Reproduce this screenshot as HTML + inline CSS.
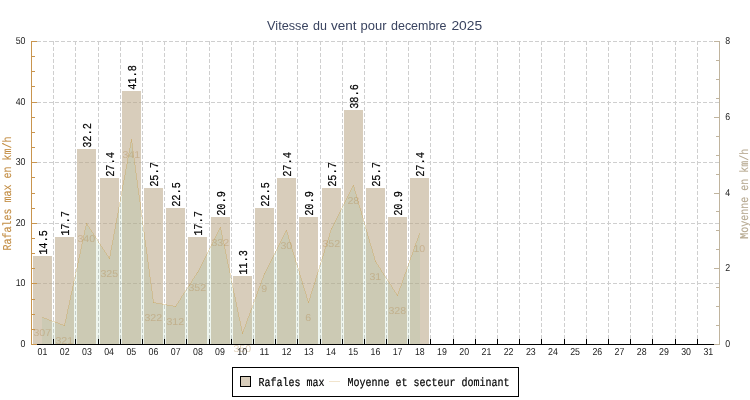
<!DOCTYPE html>
<html>
<head>
<meta charset="utf-8">
<title>Vitesse du vent pour decembre 2025</title>
<style>
html,body{margin:0;padding:0;background:#fff;}
body{width:750px;height:400px;position:relative;overflow:hidden;font-family:"Liberation Sans",sans-serif;}
</style>
</head>
<body>
<svg width="750" height="400" viewBox="0 0 750 400" style="position:absolute;left:0;top:0;will-change:transform">
<rect x="0" y="0" width="750" height="400" fill="#ffffff"/>
<g shape-rendering="crispEdges" stroke="#cfcfcf" stroke-width="1" stroke-dasharray="4 2" fill="none">
<line x1="53.5" y1="41" x2="53.5" y2="344"/>
<line x1="75.5" y1="41" x2="75.5" y2="344"/>
<line x1="98.5" y1="41" x2="98.5" y2="344"/>
<line x1="120.5" y1="41" x2="120.5" y2="344"/>
<line x1="142.5" y1="41" x2="142.5" y2="344"/>
<line x1="164.5" y1="41" x2="164.5" y2="344"/>
<line x1="186.5" y1="41" x2="186.5" y2="344"/>
<line x1="209.5" y1="41" x2="209.5" y2="344"/>
<line x1="231.5" y1="41" x2="231.5" y2="344"/>
<line x1="253.5" y1="41" x2="253.5" y2="344"/>
<line x1="275.5" y1="41" x2="275.5" y2="344"/>
<line x1="297.5" y1="41" x2="297.5" y2="344"/>
<line x1="320.5" y1="41" x2="320.5" y2="344"/>
<line x1="342.5" y1="41" x2="342.5" y2="344"/>
<line x1="364.5" y1="41" x2="364.5" y2="344"/>
<line x1="386.5" y1="41" x2="386.5" y2="344"/>
<line x1="408.5" y1="41" x2="408.5" y2="344"/>
<line x1="430.5" y1="41" x2="430.5" y2="344"/>
<line x1="453.5" y1="41" x2="453.5" y2="344"/>
<line x1="475.5" y1="41" x2="475.5" y2="344"/>
<line x1="497.5" y1="41" x2="497.5" y2="344"/>
<line x1="519.5" y1="41" x2="519.5" y2="344"/>
<line x1="541.5" y1="41" x2="541.5" y2="344"/>
<line x1="564.5" y1="41" x2="564.5" y2="344"/>
<line x1="586.5" y1="41" x2="586.5" y2="344"/>
<line x1="608.5" y1="41" x2="608.5" y2="344"/>
<line x1="630.5" y1="41" x2="630.5" y2="344"/>
<line x1="652.5" y1="41" x2="652.5" y2="344"/>
<line x1="675.5" y1="41" x2="675.5" y2="344"/>
<line x1="697.5" y1="41" x2="697.5" y2="344"/>
<line x1="31" y1="283.5" x2="719" y2="283.5"/>
<line x1="31" y1="223.5" x2="719" y2="223.5"/>
<line x1="31" y1="162.5" x2="719" y2="162.5"/>
<line x1="31" y1="102.5" x2="719" y2="102.5"/>
<line x1="31" y1="41.5" x2="719" y2="41.5"/>
</g>
<g shape-rendering="crispEdges" fill="rgba(185,166,134,0.56)">
<rect x="33" y="256" width="19" height="88"/>
<rect x="55" y="237" width="19" height="107"/>
<rect x="77" y="149" width="19" height="195"/>
<rect x="100" y="178" width="19" height="166"/>
<rect x="122" y="91" width="19" height="253"/>
<rect x="144" y="188" width="19" height="156"/>
<rect x="166" y="208" width="19" height="136"/>
<rect x="188" y="237" width="19" height="107"/>
<rect x="211" y="217" width="19" height="127"/>
<rect x="233" y="276" width="19" height="68"/>
<rect x="255" y="208" width="19" height="136"/>
<rect x="277" y="178" width="19" height="166"/>
<rect x="299" y="217" width="19" height="127"/>
<rect x="322" y="188" width="19" height="156"/>
<rect x="344" y="110" width="19" height="234"/>
<rect x="366" y="188" width="19" height="156"/>
<rect x="388" y="217" width="19" height="127"/>
<rect x="410" y="178" width="19" height="166"/>
</g>
<path d="M42,344 L42,317.5 L42.5,317.5 L64.5,325.5 L86.5,223.5 L109.5,258.5 L131.5,139.5 L153.5,302.5 L175.5,306.5 L197.5,272.5 L220.5,227.5 L242.5,333.5 L264.5,273.5 L286.5,230.5 L308.5,302.5 L331.5,228.5 L353.5,185.5 L375.5,261.5 L397.5,295.5 L419.5,233.5 L420,233.5 L420,344 Z" fill="rgba(143,188,143,0.15)" stroke="none"/>
<g shape-rendering="crispEdges" fill="rgba(200,150,60,0.29)">
<rect x="42" y="317" width="2" height="1"/>
<rect x="44" y="318" width="3" height="1"/>
<rect x="47" y="319" width="2" height="1"/>
<rect x="49" y="320" width="3" height="1"/>
<rect x="52" y="321" width="3" height="1"/>
<rect x="55" y="322" width="3" height="1"/>
<rect x="58" y="323" width="2" height="1"/>
<rect x="60" y="324" width="3" height="1"/>
<rect x="63" y="325" width="2" height="1"/>
<rect x="64" y="323" width="1" height="3"/>
<rect x="65" y="319" width="1" height="4"/>
<rect x="66" y="314" width="1" height="5"/>
<rect x="67" y="309" width="1" height="5"/>
<rect x="68" y="305" width="1" height="4"/>
<rect x="69" y="300" width="1" height="5"/>
<rect x="70" y="295" width="1" height="5"/>
<rect x="71" y="291" width="1" height="4"/>
<rect x="72" y="286" width="1" height="5"/>
<rect x="73" y="281" width="1" height="5"/>
<rect x="74" y="277" width="1" height="4"/>
<rect x="75" y="272" width="1" height="5"/>
<rect x="76" y="268" width="1" height="4"/>
<rect x="77" y="263" width="1" height="5"/>
<rect x="78" y="258" width="1" height="5"/>
<rect x="79" y="254" width="1" height="4"/>
<rect x="80" y="249" width="1" height="5"/>
<rect x="81" y="244" width="1" height="5"/>
<rect x="82" y="240" width="1" height="4"/>
<rect x="83" y="235" width="1" height="5"/>
<rect x="84" y="230" width="1" height="5"/>
<rect x="85" y="226" width="1" height="4"/>
<rect x="86" y="223" width="1" height="3"/>
<rect x="86" y="223" width="1" height="1"/>
<rect x="87" y="224" width="1" height="2"/>
<rect x="88" y="226" width="1" height="1"/>
<rect x="89" y="227" width="1" height="2"/>
<rect x="90" y="229" width="1" height="1"/>
<rect x="91" y="230" width="1" height="2"/>
<rect x="92" y="232" width="1" height="1"/>
<rect x="93" y="233" width="1" height="2"/>
<rect x="94" y="235" width="1" height="1"/>
<rect x="95" y="236" width="1" height="2"/>
<rect x="96" y="238" width="1" height="1"/>
<rect x="97" y="239" width="1" height="2"/>
<rect x="98" y="241" width="1" height="2"/>
<rect x="99" y="243" width="1" height="1"/>
<rect x="100" y="244" width="1" height="2"/>
<rect x="101" y="246" width="1" height="1"/>
<rect x="102" y="247" width="1" height="2"/>
<rect x="103" y="249" width="1" height="1"/>
<rect x="104" y="250" width="1" height="2"/>
<rect x="105" y="252" width="1" height="1"/>
<rect x="106" y="253" width="1" height="2"/>
<rect x="107" y="255" width="1" height="1"/>
<rect x="108" y="256" width="1" height="2"/>
<rect x="109" y="258" width="1" height="1"/>
<rect x="109" y="256" width="1" height="3"/>
<rect x="110" y="250" width="1" height="6"/>
<rect x="111" y="245" width="1" height="5"/>
<rect x="112" y="240" width="1" height="5"/>
<rect x="113" y="234" width="1" height="6"/>
<rect x="114" y="229" width="1" height="5"/>
<rect x="115" y="223" width="1" height="6"/>
<rect x="116" y="218" width="1" height="5"/>
<rect x="117" y="213" width="1" height="5"/>
<rect x="118" y="207" width="1" height="6"/>
<rect x="119" y="202" width="1" height="5"/>
<rect x="120" y="196" width="1" height="6"/>
<rect x="121" y="191" width="1" height="5"/>
<rect x="122" y="185" width="1" height="6"/>
<rect x="123" y="180" width="1" height="5"/>
<rect x="124" y="175" width="1" height="5"/>
<rect x="125" y="169" width="1" height="6"/>
<rect x="126" y="164" width="1" height="5"/>
<rect x="127" y="158" width="1" height="6"/>
<rect x="128" y="153" width="1" height="5"/>
<rect x="129" y="148" width="1" height="5"/>
<rect x="130" y="142" width="1" height="6"/>
<rect x="131" y="139" width="1" height="3"/>
<rect x="131" y="139" width="1" height="4"/>
<rect x="132" y="143" width="1" height="8"/>
<rect x="133" y="151" width="1" height="7"/>
<rect x="134" y="158" width="1" height="7"/>
<rect x="135" y="165" width="1" height="8"/>
<rect x="136" y="173" width="1" height="7"/>
<rect x="137" y="180" width="1" height="8"/>
<rect x="138" y="188" width="1" height="7"/>
<rect x="139" y="195" width="1" height="7"/>
<rect x="140" y="202" width="1" height="8"/>
<rect x="141" y="210" width="1" height="7"/>
<rect x="142" y="217" width="1" height="8"/>
<rect x="143" y="225" width="1" height="7"/>
<rect x="144" y="232" width="1" height="8"/>
<rect x="145" y="240" width="1" height="7"/>
<rect x="146" y="247" width="1" height="7"/>
<rect x="147" y="254" width="1" height="8"/>
<rect x="148" y="262" width="1" height="7"/>
<rect x="149" y="269" width="1" height="8"/>
<rect x="150" y="277" width="1" height="7"/>
<rect x="151" y="284" width="1" height="7"/>
<rect x="152" y="291" width="1" height="8"/>
<rect x="153" y="299" width="1" height="4"/>
<rect x="153" y="302" width="3" height="1"/>
<rect x="156" y="303" width="6" height="1"/>
<rect x="162" y="304" width="5" height="1"/>
<rect x="167" y="305" width="6" height="1"/>
<rect x="173" y="306" width="3" height="1"/>
<rect x="175" y="306" width="1" height="1"/>
<rect x="176" y="304" width="1" height="2"/>
<rect x="177" y="303" width="1" height="1"/>
<rect x="178" y="301" width="1" height="2"/>
<rect x="179" y="300" width="1" height="1"/>
<rect x="180" y="298" width="1" height="2"/>
<rect x="181" y="296" width="1" height="2"/>
<rect x="182" y="295" width="1" height="1"/>
<rect x="183" y="293" width="1" height="2"/>
<rect x="184" y="292" width="1" height="1"/>
<rect x="185" y="290" width="1" height="2"/>
<rect x="186" y="289" width="1" height="1"/>
<rect x="187" y="287" width="1" height="2"/>
<rect x="188" y="286" width="1" height="1"/>
<rect x="189" y="284" width="1" height="2"/>
<rect x="190" y="283" width="1" height="1"/>
<rect x="191" y="281" width="1" height="2"/>
<rect x="192" y="279" width="1" height="2"/>
<rect x="193" y="278" width="1" height="1"/>
<rect x="194" y="276" width="1" height="2"/>
<rect x="195" y="275" width="1" height="1"/>
<rect x="196" y="273" width="1" height="2"/>
<rect x="197" y="272" width="1" height="1"/>
<rect x="197" y="272" width="1" height="1"/>
<rect x="198" y="270" width="1" height="2"/>
<rect x="199" y="268" width="1" height="2"/>
<rect x="200" y="266" width="1" height="2"/>
<rect x="201" y="264" width="1" height="2"/>
<rect x="202" y="262" width="1" height="2"/>
<rect x="203" y="260" width="1" height="2"/>
<rect x="204" y="258" width="1" height="2"/>
<rect x="205" y="256" width="1" height="2"/>
<rect x="206" y="254" width="1" height="2"/>
<rect x="207" y="252" width="1" height="2"/>
<rect x="208" y="250" width="1" height="2"/>
<rect x="209" y="248" width="1" height="2"/>
<rect x="210" y="246" width="1" height="2"/>
<rect x="211" y="244" width="1" height="2"/>
<rect x="212" y="242" width="1" height="2"/>
<rect x="213" y="240" width="1" height="2"/>
<rect x="214" y="238" width="1" height="2"/>
<rect x="215" y="236" width="1" height="2"/>
<rect x="216" y="234" width="1" height="2"/>
<rect x="217" y="232" width="1" height="2"/>
<rect x="218" y="230" width="1" height="2"/>
<rect x="219" y="228" width="1" height="2"/>
<rect x="220" y="227" width="1" height="1"/>
<rect x="220" y="227" width="1" height="3"/>
<rect x="221" y="230" width="1" height="5"/>
<rect x="222" y="235" width="1" height="5"/>
<rect x="223" y="240" width="1" height="4"/>
<rect x="224" y="244" width="1" height="5"/>
<rect x="225" y="249" width="1" height="5"/>
<rect x="226" y="254" width="1" height="5"/>
<rect x="227" y="259" width="1" height="5"/>
<rect x="228" y="264" width="1" height="4"/>
<rect x="229" y="268" width="1" height="5"/>
<rect x="230" y="273" width="1" height="5"/>
<rect x="231" y="278" width="1" height="5"/>
<rect x="232" y="283" width="1" height="5"/>
<rect x="233" y="288" width="1" height="5"/>
<rect x="234" y="293" width="1" height="4"/>
<rect x="235" y="297" width="1" height="5"/>
<rect x="236" y="302" width="1" height="5"/>
<rect x="237" y="307" width="1" height="5"/>
<rect x="238" y="312" width="1" height="5"/>
<rect x="239" y="317" width="1" height="4"/>
<rect x="240" y="321" width="1" height="5"/>
<rect x="241" y="326" width="1" height="5"/>
<rect x="242" y="331" width="1" height="3"/>
<rect x="242" y="332" width="1" height="2"/>
<rect x="243" y="329" width="1" height="3"/>
<rect x="244" y="327" width="1" height="2"/>
<rect x="245" y="324" width="1" height="3"/>
<rect x="246" y="321" width="1" height="3"/>
<rect x="247" y="318" width="1" height="3"/>
<rect x="248" y="316" width="1" height="2"/>
<rect x="249" y="313" width="1" height="3"/>
<rect x="250" y="310" width="1" height="3"/>
<rect x="251" y="308" width="1" height="2"/>
<rect x="252" y="305" width="1" height="3"/>
<rect x="253" y="302" width="1" height="3"/>
<rect x="254" y="299" width="1" height="3"/>
<rect x="255" y="297" width="1" height="2"/>
<rect x="256" y="294" width="1" height="3"/>
<rect x="257" y="291" width="1" height="3"/>
<rect x="258" y="288" width="1" height="3"/>
<rect x="259" y="286" width="1" height="2"/>
<rect x="260" y="283" width="1" height="3"/>
<rect x="261" y="280" width="1" height="3"/>
<rect x="262" y="278" width="1" height="2"/>
<rect x="263" y="275" width="1" height="3"/>
<rect x="264" y="273" width="1" height="2"/>
<rect x="264" y="273" width="1" height="1"/>
<rect x="265" y="271" width="1" height="2"/>
<rect x="266" y="269" width="1" height="2"/>
<rect x="267" y="267" width="1" height="2"/>
<rect x="268" y="265" width="1" height="2"/>
<rect x="269" y="263" width="1" height="2"/>
<rect x="270" y="261" width="1" height="2"/>
<rect x="271" y="259" width="1" height="2"/>
<rect x="272" y="257" width="1" height="2"/>
<rect x="273" y="255" width="1" height="2"/>
<rect x="274" y="253" width="1" height="2"/>
<rect x="275" y="251" width="1" height="2"/>
<rect x="276" y="249" width="1" height="2"/>
<rect x="277" y="247" width="1" height="2"/>
<rect x="278" y="245" width="1" height="2"/>
<rect x="279" y="243" width="1" height="2"/>
<rect x="280" y="241" width="1" height="2"/>
<rect x="281" y="239" width="1" height="2"/>
<rect x="282" y="237" width="1" height="2"/>
<rect x="283" y="235" width="1" height="2"/>
<rect x="284" y="233" width="1" height="2"/>
<rect x="285" y="231" width="1" height="2"/>
<rect x="286" y="230" width="1" height="1"/>
<rect x="286" y="230" width="1" height="2"/>
<rect x="287" y="232" width="1" height="3"/>
<rect x="288" y="235" width="1" height="4"/>
<rect x="289" y="239" width="1" height="3"/>
<rect x="290" y="242" width="1" height="3"/>
<rect x="291" y="245" width="1" height="4"/>
<rect x="292" y="249" width="1" height="3"/>
<rect x="293" y="252" width="1" height="3"/>
<rect x="294" y="255" width="1" height="3"/>
<rect x="295" y="258" width="1" height="4"/>
<rect x="296" y="262" width="1" height="3"/>
<rect x="297" y="265" width="1" height="3"/>
<rect x="298" y="268" width="1" height="3"/>
<rect x="299" y="271" width="1" height="4"/>
<rect x="300" y="275" width="1" height="3"/>
<rect x="301" y="278" width="1" height="3"/>
<rect x="302" y="281" width="1" height="4"/>
<rect x="303" y="285" width="1" height="3"/>
<rect x="304" y="288" width="1" height="3"/>
<rect x="305" y="291" width="1" height="3"/>
<rect x="306" y="294" width="1" height="4"/>
<rect x="307" y="298" width="1" height="3"/>
<rect x="308" y="301" width="1" height="2"/>
<rect x="308" y="301" width="1" height="2"/>
<rect x="309" y="298" width="1" height="3"/>
<rect x="310" y="294" width="1" height="4"/>
<rect x="311" y="291" width="1" height="3"/>
<rect x="312" y="288" width="1" height="3"/>
<rect x="313" y="285" width="1" height="3"/>
<rect x="314" y="282" width="1" height="3"/>
<rect x="315" y="278" width="1" height="4"/>
<rect x="316" y="275" width="1" height="3"/>
<rect x="317" y="272" width="1" height="3"/>
<rect x="318" y="269" width="1" height="3"/>
<rect x="319" y="265" width="1" height="4"/>
<rect x="320" y="262" width="1" height="3"/>
<rect x="321" y="259" width="1" height="3"/>
<rect x="322" y="256" width="1" height="3"/>
<rect x="323" y="253" width="1" height="3"/>
<rect x="324" y="249" width="1" height="4"/>
<rect x="325" y="246" width="1" height="3"/>
<rect x="326" y="243" width="1" height="3"/>
<rect x="327" y="240" width="1" height="3"/>
<rect x="328" y="237" width="1" height="3"/>
<rect x="329" y="233" width="1" height="4"/>
<rect x="330" y="230" width="1" height="3"/>
<rect x="331" y="228" width="1" height="2"/>
<rect x="331" y="228" width="1" height="1"/>
<rect x="332" y="226" width="1" height="2"/>
<rect x="333" y="224" width="1" height="2"/>
<rect x="334" y="222" width="1" height="2"/>
<rect x="335" y="220" width="1" height="2"/>
<rect x="336" y="218" width="1" height="2"/>
<rect x="337" y="216" width="1" height="2"/>
<rect x="338" y="214" width="1" height="2"/>
<rect x="339" y="212" width="1" height="2"/>
<rect x="340" y="210" width="1" height="2"/>
<rect x="341" y="208" width="1" height="2"/>
<rect x="342" y="206" width="1" height="2"/>
<rect x="343" y="204" width="1" height="2"/>
<rect x="344" y="202" width="1" height="2"/>
<rect x="345" y="200" width="1" height="2"/>
<rect x="346" y="198" width="1" height="2"/>
<rect x="347" y="196" width="1" height="2"/>
<rect x="348" y="194" width="1" height="2"/>
<rect x="349" y="192" width="1" height="2"/>
<rect x="350" y="190" width="1" height="2"/>
<rect x="351" y="188" width="1" height="2"/>
<rect x="352" y="186" width="1" height="2"/>
<rect x="353" y="185" width="1" height="1"/>
<rect x="353" y="185" width="1" height="2"/>
<rect x="354" y="187" width="1" height="4"/>
<rect x="355" y="191" width="1" height="3"/>
<rect x="356" y="194" width="1" height="4"/>
<rect x="357" y="198" width="1" height="3"/>
<rect x="358" y="201" width="1" height="4"/>
<rect x="359" y="205" width="1" height="3"/>
<rect x="360" y="208" width="1" height="3"/>
<rect x="361" y="211" width="1" height="4"/>
<rect x="362" y="215" width="1" height="3"/>
<rect x="363" y="218" width="1" height="4"/>
<rect x="364" y="222" width="1" height="3"/>
<rect x="365" y="225" width="1" height="4"/>
<rect x="366" y="229" width="1" height="3"/>
<rect x="367" y="232" width="1" height="4"/>
<rect x="368" y="236" width="1" height="3"/>
<rect x="369" y="239" width="1" height="4"/>
<rect x="370" y="243" width="1" height="3"/>
<rect x="371" y="246" width="1" height="3"/>
<rect x="372" y="249" width="1" height="4"/>
<rect x="373" y="253" width="1" height="3"/>
<rect x="374" y="256" width="1" height="4"/>
<rect x="375" y="260" width="1" height="2"/>
<rect x="375" y="261" width="1" height="1"/>
<rect x="376" y="262" width="1" height="2"/>
<rect x="377" y="264" width="1" height="1"/>
<rect x="378" y="265" width="1" height="2"/>
<rect x="379" y="267" width="1" height="1"/>
<rect x="380" y="268" width="1" height="2"/>
<rect x="381" y="270" width="1" height="2"/>
<rect x="382" y="272" width="1" height="1"/>
<rect x="383" y="273" width="1" height="2"/>
<rect x="384" y="275" width="1" height="1"/>
<rect x="385" y="276" width="1" height="2"/>
<rect x="386" y="278" width="1" height="1"/>
<rect x="387" y="279" width="1" height="2"/>
<rect x="388" y="281" width="1" height="1"/>
<rect x="389" y="282" width="1" height="2"/>
<rect x="390" y="284" width="1" height="1"/>
<rect x="391" y="285" width="1" height="2"/>
<rect x="392" y="287" width="1" height="2"/>
<rect x="393" y="289" width="1" height="1"/>
<rect x="394" y="290" width="1" height="2"/>
<rect x="395" y="292" width="1" height="1"/>
<rect x="396" y="293" width="1" height="2"/>
<rect x="397" y="295" width="1" height="1"/>
<rect x="397" y="294" width="1" height="2"/>
<rect x="398" y="291" width="1" height="3"/>
<rect x="399" y="288" width="1" height="3"/>
<rect x="400" y="286" width="1" height="2"/>
<rect x="401" y="283" width="1" height="3"/>
<rect x="402" y="280" width="1" height="3"/>
<rect x="403" y="277" width="1" height="3"/>
<rect x="404" y="274" width="1" height="3"/>
<rect x="405" y="272" width="1" height="2"/>
<rect x="406" y="269" width="1" height="3"/>
<rect x="407" y="266" width="1" height="3"/>
<rect x="408" y="263" width="1" height="3"/>
<rect x="409" y="260" width="1" height="3"/>
<rect x="410" y="257" width="1" height="3"/>
<rect x="411" y="255" width="1" height="2"/>
<rect x="412" y="252" width="1" height="3"/>
<rect x="413" y="249" width="1" height="3"/>
<rect x="414" y="246" width="1" height="3"/>
<rect x="415" y="243" width="1" height="3"/>
<rect x="416" y="241" width="1" height="2"/>
<rect x="417" y="238" width="1" height="3"/>
<rect x="418" y="235" width="1" height="3"/>
<rect x="419" y="233" width="1" height="2"/>
</g>
<g font-family="Liberation Sans, sans-serif" font-size="10" text-rendering="geometricPrecision" fill="rgb(178,140,85)" fill-opacity="0.42" text-anchor="middle">
<text x="42.3" y="335.5" textLength="17.7" lengthAdjust="spacingAndGlyphs">307</text>
<text x="64.3" y="343.5" textLength="17.7" lengthAdjust="spacingAndGlyphs">321</text>
<text x="86.3" y="241.5" textLength="17.7" lengthAdjust="spacingAndGlyphs">340</text>
<text x="109.3" y="276.5" textLength="17.7" lengthAdjust="spacingAndGlyphs">325</text>
<text x="131.3" y="157.5" textLength="17.7" lengthAdjust="spacingAndGlyphs">341</text>
<text x="153.3" y="320.5" textLength="17.7" lengthAdjust="spacingAndGlyphs">322</text>
<text x="175.3" y="324.5" textLength="17.7" lengthAdjust="spacingAndGlyphs">312</text>
<text x="197.3" y="290.5" textLength="17.7" lengthAdjust="spacingAndGlyphs">352</text>
<text x="220.3" y="245.5" textLength="17.7" lengthAdjust="spacingAndGlyphs">332</text>
<text x="242.3" y="351.5" textLength="17.7" lengthAdjust="spacingAndGlyphs">350</text>
<text x="264.3" y="291.5" textLength="5.9" lengthAdjust="spacingAndGlyphs">9</text>
<text x="286.3" y="248.5" textLength="11.8" lengthAdjust="spacingAndGlyphs">30</text>
<text x="308.3" y="320.5" textLength="5.9" lengthAdjust="spacingAndGlyphs">6</text>
<text x="331.3" y="246.5" textLength="17.7" lengthAdjust="spacingAndGlyphs">352</text>
<text x="353.3" y="203.5" textLength="11.8" lengthAdjust="spacingAndGlyphs">28</text>
<text x="375.3" y="279.5" textLength="11.8" lengthAdjust="spacingAndGlyphs">31</text>
<text x="397.3" y="313.5" textLength="17.7" lengthAdjust="spacingAndGlyphs">328</text>
<text x="419.3" y="251.5" textLength="11.8" lengthAdjust="spacingAndGlyphs">10</text>
</g>
<g shape-rendering="crispEdges">
<rect x="31" y="344" width="689" height="1" fill="#000"/>
<rect x="53" y="339" width="1" height="5" fill="#000"/>
<rect x="75" y="339" width="1" height="5" fill="#000"/>
<rect x="98" y="339" width="1" height="5" fill="#000"/>
<rect x="120" y="339" width="1" height="5" fill="#000"/>
<rect x="142" y="339" width="1" height="5" fill="#000"/>
<rect x="164" y="339" width="1" height="5" fill="#000"/>
<rect x="186" y="339" width="1" height="5" fill="#000"/>
<rect x="209" y="339" width="1" height="5" fill="#000"/>
<rect x="231" y="339" width="1" height="5" fill="#000"/>
<rect x="253" y="339" width="1" height="5" fill="#000"/>
<rect x="275" y="339" width="1" height="5" fill="#000"/>
<rect x="297" y="339" width="1" height="5" fill="#000"/>
<rect x="320" y="339" width="1" height="5" fill="#000"/>
<rect x="342" y="339" width="1" height="5" fill="#000"/>
<rect x="364" y="339" width="1" height="5" fill="#000"/>
<rect x="386" y="339" width="1" height="5" fill="#000"/>
<rect x="408" y="339" width="1" height="5" fill="#000"/>
<rect x="430" y="339" width="1" height="5" fill="#000"/>
<rect x="453" y="339" width="1" height="5" fill="#000"/>
<rect x="475" y="339" width="1" height="5" fill="#000"/>
<rect x="497" y="339" width="1" height="5" fill="#000"/>
<rect x="519" y="339" width="1" height="5" fill="#000"/>
<rect x="541" y="339" width="1" height="5" fill="#000"/>
<rect x="564" y="339" width="1" height="5" fill="#000"/>
<rect x="586" y="339" width="1" height="5" fill="#000"/>
<rect x="608" y="339" width="1" height="5" fill="#000"/>
<rect x="630" y="339" width="1" height="5" fill="#000"/>
<rect x="652" y="339" width="1" height="5" fill="#000"/>
<rect x="675" y="339" width="1" height="5" fill="#000"/>
<rect x="697" y="339" width="1" height="5" fill="#000"/>
<rect x="31" y="41" width="1" height="304" fill="#c9954e"/>
<rect x="32" y="344" width="5" height="1" fill="#c9954e"/>
<rect x="32" y="329" width="3" height="1" fill="#c9954e"/>
<rect x="32" y="314" width="3" height="1" fill="#c9954e"/>
<rect x="32" y="299" width="3" height="1" fill="#c9954e"/>
<rect x="32" y="283" width="5" height="1" fill="#c9954e"/>
<rect x="32" y="268" width="3" height="1" fill="#c9954e"/>
<rect x="32" y="253" width="3" height="1" fill="#c9954e"/>
<rect x="32" y="238" width="3" height="1" fill="#c9954e"/>
<rect x="32" y="223" width="5" height="1" fill="#c9954e"/>
<rect x="32" y="208" width="3" height="1" fill="#c9954e"/>
<rect x="32" y="193" width="3" height="1" fill="#c9954e"/>
<rect x="32" y="177" width="3" height="1" fill="#c9954e"/>
<rect x="32" y="162" width="5" height="1" fill="#c9954e"/>
<rect x="32" y="147" width="3" height="1" fill="#c9954e"/>
<rect x="32" y="132" width="3" height="1" fill="#c9954e"/>
<rect x="32" y="117" width="3" height="1" fill="#c9954e"/>
<rect x="32" y="102" width="5" height="1" fill="#c9954e"/>
<rect x="32" y="86" width="3" height="1" fill="#c9954e"/>
<rect x="32" y="71" width="3" height="1" fill="#c9954e"/>
<rect x="32" y="56" width="3" height="1" fill="#c9954e"/>
<rect x="32" y="41" width="5" height="1" fill="#c9954e"/>
<rect x="719" y="41" width="1" height="304" fill="#c0b49e"/>
<rect x="714" y="344" width="5" height="1" fill="#c0b49e"/>
<rect x="716" y="325" width="3" height="1" fill="#c0b49e"/>
<rect x="716" y="306" width="3" height="1" fill="#c0b49e"/>
<rect x="716" y="287" width="3" height="1" fill="#c0b49e"/>
<rect x="714" y="268" width="5" height="1" fill="#c0b49e"/>
<rect x="716" y="249" width="3" height="1" fill="#c0b49e"/>
<rect x="716" y="230" width="3" height="1" fill="#c0b49e"/>
<rect x="716" y="211" width="3" height="1" fill="#c0b49e"/>
<rect x="714" y="193" width="5" height="1" fill="#c0b49e"/>
<rect x="716" y="174" width="3" height="1" fill="#c0b49e"/>
<rect x="716" y="155" width="3" height="1" fill="#c0b49e"/>
<rect x="716" y="136" width="3" height="1" fill="#c0b49e"/>
<rect x="714" y="117" width="5" height="1" fill="#c0b49e"/>
<rect x="716" y="98" width="3" height="1" fill="#c0b49e"/>
<rect x="716" y="79" width="3" height="1" fill="#c0b49e"/>
<rect x="716" y="60" width="3" height="1" fill="#c0b49e"/>
<rect x="714" y="41" width="5" height="1" fill="#c0b49e"/>
</g>
<g font-family="Liberation Sans, sans-serif" font-size="10" text-rendering="geometricPrecision" fill="#222222">
<text x="25.5" y="347.0" text-anchor="end" textLength="4.9" lengthAdjust="spacingAndGlyphs">0</text>
<text x="25.5" y="286.0" text-anchor="end" textLength="9.8" lengthAdjust="spacingAndGlyphs">10</text>
<text x="25.5" y="226.0" text-anchor="end" textLength="9.8" lengthAdjust="spacingAndGlyphs">20</text>
<text x="25.5" y="165.0" text-anchor="end" textLength="9.8" lengthAdjust="spacingAndGlyphs">30</text>
<text x="25.5" y="105.0" text-anchor="end" textLength="9.8" lengthAdjust="spacingAndGlyphs">40</text>
<text x="25.5" y="44.0" text-anchor="end" textLength="9.8" lengthAdjust="spacingAndGlyphs">50</text>
<text x="725.2" y="347.0" textLength="4.9" lengthAdjust="spacingAndGlyphs">0</text>
<text x="725.2" y="271.0" textLength="4.9" lengthAdjust="spacingAndGlyphs">2</text>
<text x="725.2" y="196.0" textLength="4.9" lengthAdjust="spacingAndGlyphs">4</text>
<text x="725.2" y="120.0" textLength="4.9" lengthAdjust="spacingAndGlyphs">6</text>
<text x="725.2" y="44.0" textLength="4.9" lengthAdjust="spacingAndGlyphs">8</text>
<text x="42.5" y="355" text-anchor="middle" textLength="9.8" lengthAdjust="spacingAndGlyphs">01</text>
<text x="64.7" y="355" text-anchor="middle" textLength="9.8" lengthAdjust="spacingAndGlyphs">02</text>
<text x="86.9" y="355" text-anchor="middle" textLength="9.8" lengthAdjust="spacingAndGlyphs">03</text>
<text x="109.1" y="355" text-anchor="middle" textLength="9.8" lengthAdjust="spacingAndGlyphs">04</text>
<text x="131.3" y="355" text-anchor="middle" textLength="9.8" lengthAdjust="spacingAndGlyphs">05</text>
<text x="153.5" y="355" text-anchor="middle" textLength="9.8" lengthAdjust="spacingAndGlyphs">06</text>
<text x="175.7" y="355" text-anchor="middle" textLength="9.8" lengthAdjust="spacingAndGlyphs">07</text>
<text x="197.9" y="355" text-anchor="middle" textLength="9.8" lengthAdjust="spacingAndGlyphs">08</text>
<text x="220.0" y="355" text-anchor="middle" textLength="9.8" lengthAdjust="spacingAndGlyphs">09</text>
<text x="242.2" y="355" text-anchor="middle" textLength="9.8" lengthAdjust="spacingAndGlyphs">10</text>
<text x="264.4" y="355" text-anchor="middle" textLength="9.8" lengthAdjust="spacingAndGlyphs">11</text>
<text x="286.6" y="355" text-anchor="middle" textLength="9.8" lengthAdjust="spacingAndGlyphs">12</text>
<text x="308.8" y="355" text-anchor="middle" textLength="9.8" lengthAdjust="spacingAndGlyphs">13</text>
<text x="331.0" y="355" text-anchor="middle" textLength="9.8" lengthAdjust="spacingAndGlyphs">14</text>
<text x="353.2" y="355" text-anchor="middle" textLength="9.8" lengthAdjust="spacingAndGlyphs">15</text>
<text x="375.4" y="355" text-anchor="middle" textLength="9.8" lengthAdjust="spacingAndGlyphs">16</text>
<text x="397.6" y="355" text-anchor="middle" textLength="9.8" lengthAdjust="spacingAndGlyphs">17</text>
<text x="419.8" y="355" text-anchor="middle" textLength="9.8" lengthAdjust="spacingAndGlyphs">18</text>
<text x="442.0" y="355" text-anchor="middle" textLength="9.8" lengthAdjust="spacingAndGlyphs">19</text>
<text x="464.2" y="355" text-anchor="middle" textLength="9.8" lengthAdjust="spacingAndGlyphs">20</text>
<text x="486.4" y="355" text-anchor="middle" textLength="9.8" lengthAdjust="spacingAndGlyphs">21</text>
<text x="508.6" y="355" text-anchor="middle" textLength="9.8" lengthAdjust="spacingAndGlyphs">22</text>
<text x="530.8" y="355" text-anchor="middle" textLength="9.8" lengthAdjust="spacingAndGlyphs">23</text>
<text x="552.9" y="355" text-anchor="middle" textLength="9.8" lengthAdjust="spacingAndGlyphs">24</text>
<text x="575.1" y="355" text-anchor="middle" textLength="9.8" lengthAdjust="spacingAndGlyphs">25</text>
<text x="597.3" y="355" text-anchor="middle" textLength="9.8" lengthAdjust="spacingAndGlyphs">26</text>
<text x="619.5" y="355" text-anchor="middle" textLength="9.8" lengthAdjust="spacingAndGlyphs">27</text>
<text x="641.7" y="355" text-anchor="middle" textLength="9.8" lengthAdjust="spacingAndGlyphs">28</text>
<text x="663.9" y="355" text-anchor="middle" textLength="9.8" lengthAdjust="spacingAndGlyphs">29</text>
<text x="686.1" y="355" text-anchor="middle" textLength="9.8" lengthAdjust="spacingAndGlyphs">30</text>
<text x="708.3" y="355" text-anchor="middle" textLength="9.8" lengthAdjust="spacingAndGlyphs">31</text>
</g>
<g font-family="Liberation Mono, monospace" font-size="12" text-rendering="geometricPrecision" fill="#000" stroke="#000" stroke-width="0.2">
<text transform="translate(47.0,254.8) rotate(-90)" textLength="24.6" lengthAdjust="spacingAndGlyphs">14.5</text>
<text transform="translate(69.0,235.8) rotate(-90)" textLength="24.6" lengthAdjust="spacingAndGlyphs">17.7</text>
<text transform="translate(91.0,147.8) rotate(-90)" textLength="24.6" lengthAdjust="spacingAndGlyphs">32.2</text>
<text transform="translate(114.0,176.8) rotate(-90)" textLength="24.6" lengthAdjust="spacingAndGlyphs">27.4</text>
<text transform="translate(136.0,89.8) rotate(-90)" textLength="24.6" lengthAdjust="spacingAndGlyphs">41.8</text>
<text transform="translate(158.0,186.8) rotate(-90)" textLength="24.6" lengthAdjust="spacingAndGlyphs">25.7</text>
<text transform="translate(180.0,206.8) rotate(-90)" textLength="24.6" lengthAdjust="spacingAndGlyphs">22.5</text>
<text transform="translate(202.0,235.8) rotate(-90)" textLength="24.6" lengthAdjust="spacingAndGlyphs">17.7</text>
<text transform="translate(225.0,215.8) rotate(-90)" textLength="24.6" lengthAdjust="spacingAndGlyphs">20.9</text>
<text transform="translate(247.0,274.8) rotate(-90)" textLength="24.6" lengthAdjust="spacingAndGlyphs">11.3</text>
<text transform="translate(269.0,206.8) rotate(-90)" textLength="24.6" lengthAdjust="spacingAndGlyphs">22.5</text>
<text transform="translate(291.0,176.8) rotate(-90)" textLength="24.6" lengthAdjust="spacingAndGlyphs">27.4</text>
<text transform="translate(313.0,215.8) rotate(-90)" textLength="24.6" lengthAdjust="spacingAndGlyphs">20.9</text>
<text transform="translate(336.0,186.8) rotate(-90)" textLength="24.6" lengthAdjust="spacingAndGlyphs">25.7</text>
<text transform="translate(358.0,108.8) rotate(-90)" textLength="24.6" lengthAdjust="spacingAndGlyphs">38.6</text>
<text transform="translate(380.0,186.8) rotate(-90)" textLength="24.6" lengthAdjust="spacingAndGlyphs">25.7</text>
<text transform="translate(402.0,215.8) rotate(-90)" textLength="24.6" lengthAdjust="spacingAndGlyphs">20.9</text>
<text transform="translate(424.0,176.8) rotate(-90)" textLength="24.6" lengthAdjust="spacingAndGlyphs">27.4</text>
</g>
<text transform="translate(11,250.6) rotate(-90)" font-family="Liberation Mono, monospace" font-size="12" text-rendering="geometricPrecision" fill="#c28c42" stroke="#c28c42" stroke-width="0.12" textLength="114" lengthAdjust="spacingAndGlyphs">Rafales max en km/h</text>
<text transform="translate(748,238.8) rotate(-90)" font-family="Liberation Mono, monospace" font-size="12" text-rendering="geometricPrecision" fill="#b6a991" stroke="#b6a991" stroke-width="0.12" textLength="90" lengthAdjust="spacingAndGlyphs">Moyenne en km/h</text>
<g font-family="Liberation Sans, sans-serif" font-size="12.5" fill="#39435f">
<text x="267.1" y="29.5" textLength="41.4" lengthAdjust="spacingAndGlyphs">Vitesse</text>
<text x="313.0" y="29.5" textLength="13.9" lengthAdjust="spacingAndGlyphs">du</text>
<text x="330.9" y="29.5" textLength="25.6" lengthAdjust="spacingAndGlyphs">vent</text>
<text x="360.5" y="29.5" textLength="26.0" lengthAdjust="spacingAndGlyphs">pour</text>
<text x="391.0" y="29.5" textLength="55.5" lengthAdjust="spacingAndGlyphs">decembre</text>
<text x="451.4" y="29.5" textLength="30.8" lengthAdjust="spacingAndGlyphs">2025</text>
</g>
<g shape-rendering="crispEdges">
<rect x="232.5" y="367.5" width="286" height="29" fill="#fff" stroke="#000" stroke-width="1"/>
<rect x="240.5" y="376.5" width="10" height="10" fill="#d8cdbb" stroke="#000" stroke-width="1"/>
<rect x="329" y="381" width="11" height="1" fill="rgba(200,150,60,0.26)"/>
</g>
<g font-family="Liberation Mono, monospace" font-size="12" text-rendering="geometricPrecision" fill="#000" stroke="#000" stroke-width="0.2">
<text x="258.6" y="386" textLength="66" lengthAdjust="spacingAndGlyphs">Rafales max</text>
<text x="347.6" y="386" textLength="162" lengthAdjust="spacingAndGlyphs">Moyenne et secteur dominant</text>
</g>
</svg>
</body>
</html>
